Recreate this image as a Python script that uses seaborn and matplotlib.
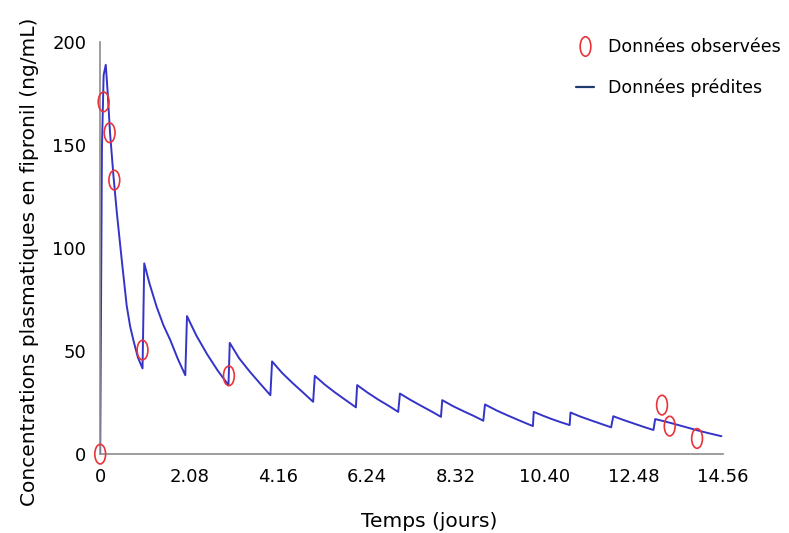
import matplotlib
matplotlib.use("Agg")
import matplotlib.pyplot as plt
import seaborn as sns
import pandas as pd
from matplotlib.path import Path
from matplotlib.transforms import Affine2D
from matplotlib.lines import Line2D

# predicted curve (one dose roughly each day)
pred_t = [0, 0.04, 0.08, 0.13, 0.17, 0.23, 0.31, 0.39, 0.51, 0.62, 0.7, 0.78, 0.88, 0.99,
          1.03, 1.15, 1.32, 1.48, 1.64, 1.82, 1.99,
          2.03, 2.25, 2.5, 2.75, 3.0,
          3.03, 3.25, 3.5, 3.75, 3.98,
          4.02, 4.25, 4.5, 4.75, 4.98,
          5.02, 5.25, 5.5, 5.75, 5.98,
          6.01, 6.25, 6.5, 6.75, 6.97,
          7.01, 7.25, 7.5, 7.75, 7.97,
          8.0, 8.25, 8.5, 8.75, 8.96,
          9.0, 9.28, 9.55, 9.83, 10.12,
          10.14, 10.35, 10.55, 10.77, 10.98,
          11.0, 11.22, 11.45, 11.7, 11.95,
          12.0, 12.22, 12.46, 12.7, 12.94,
          12.98, 13.2, 13.4, 13.68, 13.94, 14.22, 14.53]
pred_c = [0, 148, 184, 189, 177, 156, 135, 117, 93, 72, 62, 55, 47, 41.6,
          92.6, 83, 71.5, 62.5, 55.3, 46, 38.3,
          67, 57.5, 48.5, 40.5, 33.5,
          54, 46.5, 40, 34, 28.6,
          45, 39.5, 34.5, 29.8, 25.4,
          38, 33.8, 29.8, 26.1, 22.7,
          33.5, 29.9, 26.5, 23.4, 20.5,
          29.4, 26.4, 23.5, 20.7, 18.1,
          26.2, 23.3, 20.8, 18.4, 16.2,
          24.1, 21.1, 18.6, 16.1, 13.6,
          20.5, 18.7, 17.1, 15.5, 14.1,
          20.2, 18.3, 16.6, 14.8, 13,
          18.4, 16.7, 15.0, 13.3, 11.7,
          17, 15.9, 14.8, 13.2, 11.7, 10.2, 8.7]

# observed data
obs_t = [0, 0.08, 0.22, 0.33, 0.99, 3.01, 13.14, 13.32, 13.96]
obs_c = [0, 171, 156, 133, 50.5, 38, 23.8, 13.6, 7.6]

xticks = [0, 2.08, 4.16, 6.24, 8.32, 10.40, 12.48, 14.56]
xtick_labels = ["0", "2.08", "4.16", "6.24", "8.32", "10.40", "12.48", "14.56"]
yticks = [0, 50, 100, 150, 200]

sns.set_style("white")
plt.rcParams["font.family"] = ["DejaVu Sans"]
plt.rcParams["text.color"] = "black"
plt.rcParams["axes.labelcolor"] = "black"

pred = pd.DataFrame({"t": pred_t, "c": pred_c})
obs = pd.DataFrame({"t": obs_t, "c": obs_c})

ellipse = Path.unit_circle().transformed(Affine2D().scale(0.55, 1.0))
line_col = "#3434c8"
red = "#e8333a"

fig = plt.figure(figsize=(7.89, 5.33), dpi=100)
ax = fig.add_axes([0.127, 0.148, 0.789, 0.773])

sns.lineplot(data=pred, x="t", y="c", ax=ax, color=line_col, linewidth=1.4,
             sort=False, estimator=None)
sns.scatterplot(data=obs, x="t", y="c", ax=ax, marker=ellipse, s=200,
                facecolors="none", edgecolor=red, linewidth=1.2,
                clip_on=False, zorder=5)

ax.set_xlim(0, 14.56)
ax.set_ylim(0, 200)
ax.set_xticks(xticks)
ax.set_xticklabels(xtick_labels)
ax.set_yticks(yticks)
ax.tick_params(axis="both", direction="inout", length=8, width=1,
               color="#808080", labelsize=13, labelcolor="black", pad=6)

for side in ["top", "right"]:
    ax.spines[side].set_visible(False)
for side in ["left", "bottom"]:
    ax.spines[side].set_color("#8c8c8c")
    ax.spines[side].set_linewidth(1.2)

ax.set_xlabel("Temps (jours)", fontsize=14.5, color="black")
ax.set_ylabel("Concentrations plasmatiques en fipronil (ng/mL)", fontsize=14.5, color="black")
ax.xaxis.set_label_coords(0.528, -0.14)
ax.yaxis.set_label_coords(-0.099, 0.466)

handles = [
    Line2D([], [], linestyle="none", marker=ellipse, markersize=14,
           markerfacecolor="none", markeredgecolor=red, markeredgewidth=1.2),
    Line2D([], [], color="#1f3a6e", linewidth=1.6),
]
ax.legend(handles, ["Données observées", "Données prédites"], loc="upper left",
          bbox_to_anchor=(0.74, 1.047), frameon=False, fontsize=12.5,
          handlelength=1.0, handletextpad=0.8, labelspacing=1.3,
          labelcolor="black")

fig.savefig("out.png", dpi=100)
